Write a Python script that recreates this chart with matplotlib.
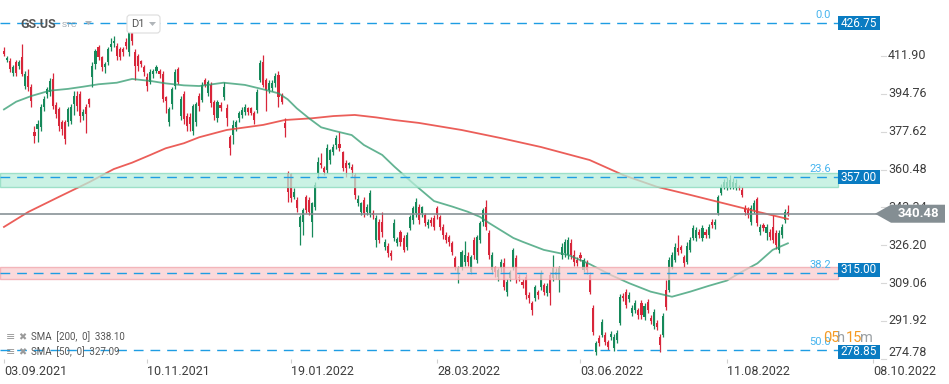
import matplotlib
matplotlib.use("Agg")
import matplotlib.pyplot as plt
from matplotlib.patches import Rectangle, Polygon, FancyBboxPatch
import numpy as np

plt.rcParams['font.family'] = ['Roboto', 'DejaVu Sans']

# daily candles GS.US, 03.09.2021 onwards
opens = [414.1, 410.0, 409.6, 404.1, 409.1, 407.3, 411.4, 398.2, 402.8, 397.8,
         377.3, 378.7, 379.6, 388.7, 394.6, 395.5, 401.4, 389.6, 387.8, 381.9,
         381.9, 381.9, 382.3, 390.0, 393.7, 394.6, 384.6, 388.7, 392.3, 402.3,
         408.2, 415.9, 411.4, 406.8, 409.1, 416.0, 417.8, 416.4, 415.0, 415.0,
         418.2, 413.7, 422.8, 413.7, 411.9, 409.6, 406.8, 402.3, 400.0, 403.7,
         405.0, 405.0, 403.7, 393.2, 381.9, 390.0, 398.2, 405.9, 384.6, 394.6,
         384.6, 384.1, 377.8, 381.9, 393.7,
         392.0, 401.0, 395.1, 398.8, 391.1, 383.8, 389.7, 393.3, 388.4, 375.2,
         376.1, 379.7, 383.8, 385.2, 386.5, 388.4, 388.4, 386.1, 387.4, 401.0,
         409.2, 401.0, 396.5, 397.4, 399.7, 403.3, 394.2, 381.6, 358.9, 358.5,
         348.0, 346.7, 334.5, 336.7, 348.0, 346.7, 336.7, 343.5, 358.9, 363.4,
         361.2, 360.3, 364.8, 368.4, 371.6, 372.0, 368.4, 363.4, 362.5, 361.6,
         358.0, 345.3, 341.3, 346.7, 341.3, 340.8, 340.8, 328.6, 336.7, 336.7,
         325.4, 325.9, 322.7,
         329.5, 327.2, 332.2, 329.5, 325.4, 334.0, 337.6, 340.8, 343.5, 340.8,
         339.9, 335.4, 337.6, 338.5, 343.1, 339.0, 334.5, 330.8, 329.9, 327.2,
         320.4, 313.6, 316.4, 318.6, 321.3, 314.1, 328.6, 319.5, 328.6, 336.7,
         343.5, 331.7, 315.0, 316.4, 311.8, 315.9, 318.2, 305.0, 311.4, 315.9,
         320.4, 311.8, 309.6, 311.8, 303.7, 300.1, 302.3, 305.0, 307.3, 308.2,
         304.6, 312.7, 311.4, 312.7, 310.5, 321.8, 322.7, 321.8, 327.2, 321.8,
         319.5, 321.8, 315.0, 318.2,
         312.7, 297.8, 277.9, 284.2, 285.6, 285.6, 282.4, 284.7, 279.7, 283.3,
         291.0, 303.2, 305.0, 301.9, 295.5, 296.9, 296.9, 300.1, 293.7, 300.5,
         293.3, 289.7, 291.0, 284.7, 285.6, 305.9, 305.9, 316.4, 319.5, 325.0,
         325.4, 320.9, 318.6, 324.1, 329.5, 329.5, 332.2, 329.5, 332.2, 330.8,
         336.7, 335.4, 340.8, 349.9, 352.6, 352.1, 352.6, 352.6, 352.1, 352.6,
         351.2, 343.1, 342.2, 336.7, 342.2, 347.1, 332.2, 335.4, 331.8, 332.2,
         334.5, 331.8, 324.1, 330.8, 337.6, 341.3]
highs = [416.0, 412.0, 411.0, 408.0, 410.0, 410.0, 417.3, 405.0, 406.0, 399.0,
         380.3, 383.0, 390.0, 394.0, 398.0, 402.0, 404.0, 391.0, 389.0, 383.0,
         383.0, 389.0, 390.0, 396.0, 396.0, 396.0, 388.0, 390.0, 393.0, 409.0,
         415.0, 417.0, 412.0, 409.0, 416.0, 420.0, 421.0, 418.0, 416.0, 416.0,
         420.0, 424.0, 424.5, 415.0, 413.0, 410.0, 408.0, 404.0, 406.0, 406.0,
         408.0, 406.0, 405.0, 394.0, 389.0, 398.0, 406.0, 407.0, 394.0, 396.0,
         386.0, 386.0, 390.0, 391.0, 395.0,
         400.0, 402.0, 401.0, 400.0, 392.0, 392.0, 391.0, 400.0, 390.0, 376.0,
         383.0, 383.0, 387.0, 389.0, 390.0, 389.0, 389.0, 387.0, 397.0, 410.0,
         412.3, 402.0, 401.0, 401.0, 404.0, 405.0, 395.0, 383.8, 360.0, 359.0,
         352.0, 348.0, 340.0, 343.0, 349.0, 348.0, 346.0, 355.0, 366.0, 368.0,
         362.0, 372.0, 370.0, 372.0, 376.0, 377.6, 369.0, 365.0, 364.0, 363.0,
         359.0, 349.0, 346.0, 348.0, 345.0, 351.0, 342.0, 340.0, 338.0, 341.4,
         329.0, 327.0, 324.0,
         338.0, 330.0, 333.0, 331.0, 332.0, 340.0, 344.0, 347.5, 345.0, 344.0,
         341.0, 338.0, 339.0, 340.0, 344.0, 340.0, 336.0, 332.0, 331.0, 328.0,
         321.5, 317.0, 324.0, 328.0, 323.0, 322.0, 330.0, 331.0, 337.0, 343.0,
         346.7, 333.0, 323.0, 317.0, 316.0, 320.0, 320.5, 311.0, 315.0, 325.0,
         322.0, 313.0, 311.0, 313.0, 305.0, 301.0, 308.0, 306.0, 315.0, 309.0,
         309.0, 314.0, 321.8, 316.0, 317.0, 327.0, 329.0, 330.0, 329.0, 324.0,
         321.0, 323.0, 320.5, 319.5,
         314.0, 299.0, 283.0, 285.5, 293.0, 287.0, 283.5, 287.5, 286.0, 288.0,
         304.0, 304.5, 306.5, 305.0, 299.0, 301.5, 298.0, 301.5, 300.0, 302.0,
         294.5, 297.5, 292.5, 286.0, 295.5, 310.5, 321.0, 323.0, 327.0, 331.0,
         326.5, 322.0, 327.5, 330.0, 335.5, 334.5, 333.5, 335.5, 333.5, 336.0,
         338.0, 338.0, 349.0, 354.0, 356.0, 357.0, 358.0, 356.5, 356.0, 353.5,
         352.5, 344.5, 343.5, 344.5, 346.5, 348.0, 336.0, 336.5, 336.0, 333.5,
         340.0, 333.0, 333.0, 336.0, 342.5, 344.4]
lows = [412.0, 409.0, 404.5, 403.0, 403.0, 406.0, 403.0, 397.0, 396.0, 389.0,
        372.6, 373.0, 378.0, 387.0, 393.0, 394.0, 388.0, 384.0, 378.0, 376.0,
        372.0, 380.0, 381.0, 385.0, 387.0, 382.0, 383.0, 377.0, 389.0, 398.0,
        406.0, 410.0, 405.0, 404.0, 408.0, 414.0, 416.0, 410.0, 410.0, 412.0,
        415.0, 412.0, 417.0, 401.0, 405.0, 407.0, 403.0, 396.0, 399.0, 402.0,
        404.0, 402.0, 391.0, 386.0, 380.0, 388.0, 397.0, 399.0, 383.0, 381.0,
        378.0, 378.0, 376.0, 380.0, 387.0,
        391.0, 398.0, 394.0, 389.0, 383.0, 382.0, 387.0, 392.0, 380.0, 367.1,
        372.0, 378.0, 382.0, 384.0, 385.0, 385.0, 385.0, 381.0, 386.0, 400.0,
        398.0, 387.0, 395.0, 396.0, 398.0, 388.8, 390.0, 375.2, 346.0, 346.0,
        347.0, 341.4, 326.3, 331.0, 341.0, 340.0, 330.0, 342.0, 356.0, 361.0,
        358.0, 359.0, 363.0, 367.0, 370.0, 369.0, 360.0, 357.3, 361.0, 357.0,
        347.0, 344.0, 340.0, 339.0, 340.0, 339.0, 338.0, 325.5, 327.0, 330.0,
        324.0, 321.0, 319.5,
        328.0, 326.0, 326.0, 323.0, 324.0, 333.0, 336.0, 339.0, 336.0, 339.0,
        335.0, 334.0, 335.0, 333.0, 338.0, 333.0, 329.0, 327.0, 326.0, 322.0,
        315.0, 309.0, 315.0, 317.0, 317.0, 313.0, 320.0, 318.0, 327.0, 335.0,
        333.0, 320.0, 313.0, 312.0, 310.0, 314.0, 306.0, 303.0, 310.0, 315.0,
        309.0, 310.0, 307.0, 302.0, 300.0, 294.6, 301.0, 302.0, 306.0, 303.7,
        303.0, 299.2, 310.0, 311.0, 305.0, 320.0, 321.0, 320.0, 320.0, 317.0,
        317.0, 319.0, 314.0, 313.0,
        304.0, 285.6, 276.5, 280.5, 284.5, 281.0, 278.8, 283.5, 278.5, 282.0,
        290.0, 301.0, 298.0, 300.5, 294.0, 295.5, 293.0, 293.0, 292.5, 295.5,
        290.5, 288.5, 288.0, 277.9, 284.5, 297.0, 305.0, 315.5, 318.5, 322.0,
        322.5, 316.5, 317.5, 323.0, 328.5, 328.0, 329.5, 328.0, 329.5, 329.5,
        334.0, 333.5, 340.0, 349.0, 351.5, 351.0, 351.5, 351.5, 351.0, 351.0,
        348.0, 340.0, 338.5, 335.5, 341.0, 335.0, 331.0, 332.5, 328.6, 328.5,
        327.0, 324.5, 322.5, 329.5, 336.5, 339.5]
closes = [412.8, 411.0, 405.9, 406.8, 404.1, 409.1, 403.7, 403.7, 397.8, 391.4,
          375.5, 381.0, 388.7, 392.3, 396.8, 400.5, 389.1, 385.5, 380.0, 378.7,
          374.1, 387.8, 388.7, 393.7, 389.1, 384.6, 386.4, 385.5, 390.0, 407.3,
          414.1, 411.4, 406.8, 408.2, 415.0, 417.3, 418.7, 411.9, 411.4, 413.7,
          416.4, 422.8, 418.7, 407.3, 407.3, 408.2, 404.6, 398.2, 404.6, 405.0,
          406.8, 403.7, 392.3, 391.4, 387.8, 396.8, 404.6, 400.0, 392.3, 383.2,
          380.0, 380.9, 389.1, 390.0, 389.1,
          398.8, 398.8, 400.1, 390.6, 385.2, 391.1, 388.4, 397.9, 383.8, 370.2,
          380.6, 382.0, 386.1, 387.4, 388.8, 386.5, 386.1, 382.9, 395.6, 408.7,
          398.8, 396.5, 399.7, 399.7, 402.8, 393.3, 391.1, 379.3, 350.3, 347.6,
          350.3, 343.1, 339.0, 342.2, 342.2, 341.3, 345.3, 353.5, 363.9, 362.5,
          359.4, 370.2, 369.3, 370.7, 374.8, 370.2, 361.2, 361.2, 363.4, 360.3,
          349.0, 347.1, 345.3, 340.8, 343.5, 349.9, 339.9, 338.5, 328.6, 332.2,
          327.7, 322.7, 321.3,
          336.3, 329.0, 327.7, 324.1, 330.8, 339.0, 343.1, 345.8, 337.6, 343.5,
          336.3, 336.7, 336.3, 334.5, 339.9, 334.5, 330.8, 328.6, 327.7, 323.1,
          316.4, 315.9, 323.1, 321.8, 318.6, 320.9, 321.8, 329.9, 336.3, 342.2,
          334.5, 321.8, 321.8, 314.1, 315.0, 318.6, 307.3, 309.6, 314.1, 324.1,
          310.9, 311.4, 308.2, 303.7, 302.3, 296.9, 307.3, 303.7, 313.6, 305.0,
          307.8, 304.6, 315.9, 314.1, 315.9, 325.4, 327.7, 328.6, 321.8, 318.6,
          318.2, 320.4, 319.5, 315.0,
          305.0, 287.0, 281.9, 281.9, 291.5, 282.4, 280.1, 286.0, 284.7, 286.5,
          302.8, 302.3, 299.2, 303.7, 297.8, 300.1, 294.6, 294.6, 298.7, 296.9,
          291.9, 296.0, 289.2, 281.0, 294.2, 298.3, 319.5, 321.8, 325.4, 323.1,
          324.1, 318.2, 325.9, 328.6, 334.0, 333.1, 330.8, 334.0, 330.8, 334.5,
          335.4, 336.7, 348.0, 352.6, 354.8, 354.8, 355.7, 354.8, 354.4, 352.1,
          349.0, 341.3, 339.9, 343.1, 345.3, 336.3, 334.5, 334.0, 334.5, 329.9,
          328.6, 326.3, 331.8, 334.5, 341.3, 340.48]

# moving averages (bar index, value)
sma50_x = [0, 4, 9, 15, 21, 26, 31, 37, 42, 48, 53, 59, 64, 72, 79, 85, 90, 93, 96, 100,
           104, 108, 114, 118, 124, 128, 134, 141, 147, 152, 156, 159, 167, 170, 177,
           185, 192, 199, 205, 212, 219, 225, 231, 237, 241, 247, 252, 257]
sma50_y = [387.7, 391.2, 393.8, 396.2, 397.0, 398.0, 399.1, 399.8, 401.5, 400.6, 399.5,
           398.6, 398.3, 399.8, 398.8, 396.8, 395.0, 392.3, 388.2, 383.7, 379.6, 378.1,
           376.1, 371.6, 367.1, 361.8, 354.4, 346.2, 343.7, 341.4, 339.1, 336.3, 329.5,
           327.8, 324.1, 321.8, 317.7, 312.7, 309.0, 305.2, 302.9, 305.2, 307.8, 310.2,
           313.5, 318.0, 324.1, 327.09]
sma200_x = [0, 8, 18, 28, 36, 42, 48, 53, 59, 64, 73, 85, 92, 101, 108, 115, 122, 128,
            136, 150, 163, 176, 192, 203, 214, 225, 236, 247, 257]
sma200_y = [334.5, 341.3, 348.1, 354.8, 360.7, 363.6, 367.1, 370.1, 372.4, 375.1, 378.4,
            380.7, 382.9, 383.7, 384.7, 385.2, 384.1, 382.9, 381.6, 378.4, 374.7, 370.7,
            364.8, 358.0, 352.7, 349.0, 345.2, 341.4, 338.10]

date_pos = [0, 47, 94, 142, 189, 237, 285]
date_labels = ['03.09.2021', '10.11.2021', '19.01.2022', '28.03.2022',
               '03.06.2022', '11.08.2022', '08.10.2022']
price_ticks = [411.90, 394.76, 377.62, 360.48, 343.34, 326.20, 309.06, 291.92, 274.78]

fib_levels = [426.75, 356.95, 313.75, 278.85]
fib_names = ['0.0', '23.6', '38.2', '50.0']
box_prices = [426.75, 357.00, 315.00, 278.85]
last_price = 340.48

UP = '#16895a'
DOWN = '#d8263a'
W, H = 949, 384

fig = plt.figure(figsize=(W / 100, H / 100), dpi=100)
ax = fig.add_axes([0, 1 - 359 / H, 880 / W, 359 / H])
ax.set_xlim(-1.3, 287.2)
ax.set_ylim(274.7, 437.25)
for s in ax.spines.values():
    s.set_visible(False)
ax.set_yticks([])

o = np.array(opens); c = np.array(closes)
hi = np.array(highs); lo = np.array(lows)
x = np.arange(len(o))
cols = np.where(c >= o, UP, DOWN)
ax.vlines(x, lo, hi, colors=cols, lw=0.9, zorder=2)
ax.bar(x, np.maximum(np.abs(c - o), 0.4), bottom=np.minimum(o, c), width=0.68,
       color=cols, linewidth=0, zorder=3)

ax.plot(sma200_x, sma200_y, color='#e8423c', lw=1.3, alpha=0.85, zorder=4)
ax.plot(sma50_x, sma50_y, color='#2f9a6e', lw=1.3, alpha=0.75, zorder=4)

xm = 838 / 880
# support / resistance zones, drawn over the candles
ax.axhspan(352.8, 359.0, xmax=xm, facecolor='#b9eedb', edgecolor='#86d9bb',
           lw=1, alpha=0.75, zorder=5)
ax.axhspan(310.9, 316.4, xmax=xm, facecolor='#f9cdd0', edgecolor='#f0a3a9',
           lw=1, alpha=0.75, zorder=5)

ax.axhline(last_price, color='#7f898e', lw=1.1, zorder=6)
for lv in fib_levels:
    ax.axhline(lv, xmax=xm, color='#1e9de3', lw=1.0, ls=(0, (7, 5)), zorder=6)

ax.set_xticks(date_pos)
ax.set_xticklabels(date_labels, fontsize=9, color='#3d3d3d', ha='left')
ax.tick_params(axis='x', length=3, color='#d0d0d0', pad=1.5)

# overlay in pixel coordinates (origin bottom-left)
ov = fig.add_axes([0, 0, 1, 1])
ov.set_xlim(0, W); ov.set_ylim(0, H)
ov.axis('off')
ov.patch.set_alpha(0)


def ypx(p):
    return ax.transData.transform((0, p))[1]


for p in price_ticks:
    yy = ypx(p)
    if p == 274.78:
        yy = H - 353
    ov.plot([881, 886], [ypx(p), ypx(p)], color='#d8d8d8', lw=0.8)
    ov.text(888, yy, f'{p:.2f}', fontsize=9, color='#3d3d3d', va='center', ha='left')

for p in box_prices:
    yy = ypx(p)
    if p == 278.85:
        yy -= 2
    ov.add_patch(Rectangle((838, yy - 7), 42, 14, facecolor='#0a7cc2', edgecolor='none', zorder=8))
    ov.text(859, yy, f'{p:.2f}', fontsize=8.5, color='white', va='center', ha='center', zorder=9)

for lv, nm in zip(fib_levels, fib_names):
    yy = ypx(lv) + 8
    if nm == '0.0':
        yy = H - 15
    ov.text(831, yy, nm, fontsize=8, color='#46b4ee', va='center', ha='right', zorder=7)

yl = ypx(last_price)
ov.add_patch(Polygon([(875, yl), (891, yl + 9), (945, yl + 9), (945, yl - 9), (891, yl - 9)],
                     closed=True, facecolor='#848e93', edgecolor='none', zorder=8))
ov.text(918, yl, f'{last_price:.2f}', fontsize=9.5, color='white', fontweight='bold',
        va='center', ha='center', zorder=9)

# countdown
cy = H - 338
ov.text(823, cy, '05', fontsize=10.5, color='#f59a23', va='center', ha='left', zorder=7)
ov.text(837, cy, 'h', fontsize=10.5, color='#9aa0a4', va='center', ha='left', zorder=7)
ov.text(846, cy, '15', fontsize=10.5, color='#f59a23', va='center', ha='left', zorder=7)
ov.text(860, cy, 'm', fontsize=10.5, color='#9aa0a4', va='center', ha='left', zorder=7)

# header
ov.text(20, H - 24, 'GS.US', fontsize=9, fontweight='bold', color='#555555', va='center')
ov.text(62, H - 25, 'STC', fontsize=6, color='#9aa3ab', va='center')
ov.add_patch(Polygon([(85, H - 21), (92, H - 21), (88.5, H - 25)], facecolor='#b0b5b9',
                     edgecolor='none'))
ov.add_patch(FancyBboxPatch((127, H - 33), 33, 18, boxstyle='round,pad=0,rounding_size=3',
                            facecolor='white', edgecolor='#dcdcdc', lw=0.8, zorder=8))
ov.text(131, H - 24, 'D1', fontsize=8, color='#555555', va='center', zorder=9)
ov.add_patch(Polygon([(149, H - 22), (156, H - 22), (152.5, H - 26)], facecolor='#b0b5b9',
                     edgecolor='none', zorder=9))

# indicator legend
for yy, txt in [(337, 'SMA  [200,  0]  338.10'), (352, 'SMA  [50,  0]  327.09')]:
    ov.text(6, H - yy, '≡', fontsize=8, color='#9a9a9a', va='center')
    ov.text(18, H - yy, '✖', fontsize=7, color='#9a9a9a', va='center')
    ov.text(31, H - yy, txt, fontsize=7, color='#555555', va='center')

fig.savefig('out.png', dpi=100)
